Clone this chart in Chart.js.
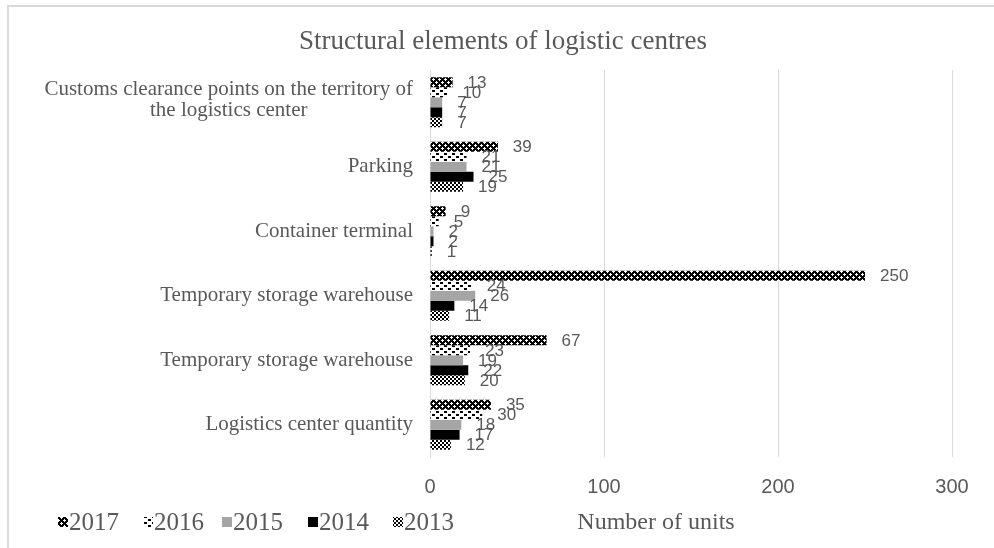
<!DOCTYPE html>
<html>
<head>
<meta charset="utf-8">
<script src="https://cdn.jsdelivr.net/npm/chart.js@4/dist/chart.umd.min.js"></script>
<style>
html,body{margin:0;padding:0;background:#fff;}
#wrap{width:994px;height:548px;}
</style>
</head>
<body>
<div id="wrap"><canvas id="c" width="994" height="548"></canvas></div>
<script>
const categories = [
  ['Customs clearance points on the territory of', 'the logistics center'],
  'Parking',
  'Container terminal',
  'Temporary storage warehouse',
  'Temporary storage warehouse',
  'Logistics center quantity'
];
const seriesNames = ['2017', '2016', '2015', '2014', '2013'];
const values2017 = [13, 39, 9, 250, 67, 35];
const values2016 = [10, 21, 5, 24, 23, 30];
const values2015 = [7, 21, 2, 26, 19, 18];
const values2014 = [7, 25, 2, 14, 22, 17];
const values2013 = [7, 19, 1, 11, 20, 12];
const xTicks = [0, 100, 200, 300];
const chartTitle = 'Structural elements of logistic centres';
const axisTitle = 'Number of units';

function makePattern(w, h, draw) {
  const cv = document.createElement('canvas');
  cv.width = w; cv.height = h;
  const cx = cv.getContext('2d');
  draw(cx);
  return document.getElementById('c').getContext('2d').createPattern(cv, 'repeat');
}
const p2017 = makePattern(6, 6, cx => {
  cx.fillStyle = '#000'; cx.fillRect(0, 0, 6, 6);
  cx.fillStyle = '#fff';
  [[1,0],[0,1],[1,1],[2,1],[1,2],[4,3],[3,4],[4,4],[5,4],[4,5]].forEach(p => cx.fillRect(p[0], p[1], 1, 1));
});
const p2016 = makePattern(8, 6, cx => {
  cx.fillStyle = '#fff'; cx.fillRect(0, 0, 8, 6);
  cx.fillStyle = '#000';
  cx.fillRect(0, 0, 3, 2);
  cx.fillRect(4, 3, 3, 2);
});
const p2013 = makePattern(4, 4, cx => {
  cx.fillStyle = '#fff'; cx.fillRect(0, 0, 4, 4);
  cx.fillStyle = '#000';
  cx.fillRect(0, 0, 2, 2);
  cx.fillRect(2, 2, 2, 2);
});
const fills = [p2017, p2016, '#a5a5a5', '#000000', p2013];
const allValues = [values2017, values2016, values2015, values2014, values2013];

const GRAY = '#595959';
const SERIF = '"Liberation Serif", "Times New Roman", serif';
const SANS = '"Liberation Sans", Arial, sans-serif';

const decorPlugin = {
  id: 'decor',
  beforeDraw(chart) {
    const ctx = chart.ctx;
    ctx.save();
    ctx.fillStyle = '#fff';
    ctx.fillRect(0, 0, chart.width, chart.height);
    ctx.strokeStyle = '#d9d9d9';
    ctx.lineWidth = 2;
    ctx.strokeRect(8, 6, 1100, 700);
    ctx.restore();
  },
  afterDatasetsDraw(chart) {
    const ctx = chart.ctx;
    ctx.save();
    ctx.font = '17px ' + SANS;
    ctx.fillStyle = GRAY;
    ctx.textAlign = 'left';
    ctx.textBaseline = 'middle';
    chart.data.datasets.forEach((ds, i) => {
      const meta = chart.getDatasetMeta(i);
      meta.data.forEach((el, j) => {
        ctx.fillText(String(ds.data[j]), el.x + 15, el.y + 1);
      });
    });
    ctx.restore();
  },
  afterDraw(chart) {
    const ctx = chart.ctx;
    ctx.save();
    // title
    ctx.fillStyle = GRAY;
    ctx.font = '27px ' + SERIF;
    ctx.textAlign = 'center';
    ctx.textBaseline = 'middle';
    ctx.fillText(chartTitle, 503, 42);
    // category labels
    const ys = chart.scales.y;
    ctx.font = '21px ' + SERIF;
    chart.data.labels.forEach((lab, i) => {
      const y = ys.getPixelForTick(i);
      const lines = Array.isArray(lab) ? lab : [lab];
      const w = Math.max(...lines.map(l => ctx.measureText(l).width));
      const right = 413;
      const cxm = right - w / 2;
      const lh = 21;
      const y0 = y - (lines.length - 1) * lh / 2 - (lines.length > 1 ? 2 : 0);
      ctx.textAlign = 'center';
      lines.forEach((l, k) => ctx.fillText(l, cxm, y0 + k * lh));
    });
    // legend
    const boxX = [58, 143, 222, 308, 393];
    ctx.font = '25px ' + SERIF;
    ctx.textAlign = 'left';
    chart.data.datasets.forEach((ds, i) => {
      ctx.fillStyle = ds.backgroundColor;
      ctx.fillRect(boxX[i], 517, 10, 10);
      ctx.fillStyle = GRAY;
      ctx.fillText(ds.label, boxX[i] + 11, 523);
    });
    // axis title
    ctx.font = '24px ' + SERIF;
    ctx.textAlign = 'center';
    ctx.fillText(axisTitle, 656, 523);
    ctx.restore();
  }
};

new Chart(document.getElementById('c'), {
  type: 'bar',
  data: {
    labels: categories,
    datasets: seriesNames.map((n, i) => ({
      label: n,
      data: allValues[i],
      backgroundColor: fills[i],
      borderWidth: 0,
      barPercentage: 1,
      categoryPercentage: 0.775
    }))
  },
  options: {
    indexAxis: 'y',
    responsive: false,
    animation: false,
    devicePixelRatio: 1,
    layout: { padding: { top: 70, right: 42, left: 0, bottom: 0 } },
    plugins: {
      legend: { display: false },
      title: { display: false },
      tooltip: { enabled: false }
    },
    scales: {
      x: {
        min: 0, max: 300,
        afterBuildTicks(scale) { scale.ticks = xTicks.map(v => ({ value: v })); },
        afterFit(scale) { scale.height = 91; },
        grid: { color: '#d9d9d9', drawTicks: false, lineWidth: 1 },
        border: { display: false },
        ticks: { color: GRAY, font: { family: SANS, size: 20 }, padding: 18 }
      },
      y: {
        afterFit(scale) { scale.width = 430; },
        grid: { display: false },
        border: { display: true, color: '#d9d9d9', width: 1 },
        ticks: { display: false }
      }
    }
  },
  plugins: [decorPlugin]
});
</script>
</body>
</html>
